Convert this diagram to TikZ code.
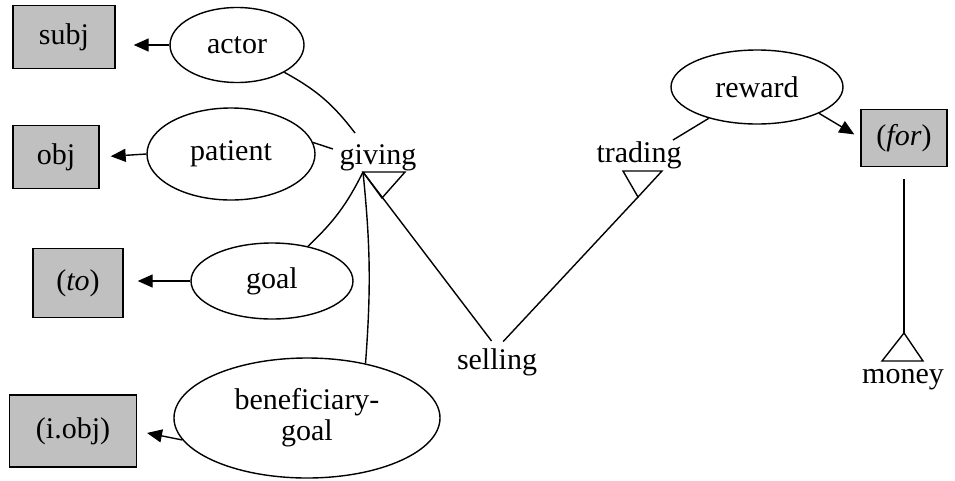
\documentclass[tikz,border=0pt]{standalone}
\usepackage{fontspec}
\setmainfont{Liberation Serif}
\usepackage{tikz}
\usetikzlibrary{shapes.geometric}
\usetikzlibrary{arrows.meta}
\definecolor{boxgray}{RGB}{192,192,192}
\tikzstyle{role} = [draw, ellipse, line width=1.4pt, inner sep=0pt]
\tikzstyle{word} = [draw, fill=boxgray, line width=1.4pt, inner sep=0pt]
\tikzstyle{concept} = [inner sep=0pt]
\tikzstyle{link} = [line width=1.4pt]
\tikzstyle{arrow} = [line width=1.4pt,-{Triangle[length=15pt,width=13pt]}]

\begin{document}
\begin{tikzpicture}[x=1pt,y=-1pt,font=\fontsize{30}{31}\selectfont]
\useasboundingbox (0,0) rectangle (955,480);

\node[word, minimum width=102pt, minimum height=63pt] (subj) at (64,37) {subj};
\node[word, minimum width=86pt, minimum height=63pt] (obj) at (56,157) {obj};
\node[word, minimum width=90pt, minimum height=69pt] (to) at (78,283) {(\textit{to})};
\node[word, minimum width=127pt, minimum height=72pt] (iobj) at (73,431) {(i.obj)};
\node[word, minimum width=86pt, minimum height=57pt] (for) at (904,138) {(\textit{for})};

\node[role, minimum width=134pt, minimum height=75pt] (actor) at (237,45) {actor};
\node[role, minimum width=168pt, minimum height=92pt] (patient) at (231,154) {patient};
\node[role, minimum width=162pt, minimum height=76pt] (goal) at (272,281) {goal};
\node[role, minimum width=266pt, minimum height=120pt, align=center] (bengoal) at (307,418) {beneficiary-\\goal};
\node[role, minimum width=172pt, minimum height=74pt] (reward) at (757,87) {reward};

\node[concept] (giving) at (378,158) {giving};
\node[concept] (selling) at (497,362) {selling};
\node[concept] (trading) at (639,155) {trading};
\node[concept] (money) at (903,380) {money};

\coordinate (givingtop) at (355,133);
\coordinate (givingleft) at (333,149);
\coordinate (givingisa) at (363,172);
\coordinate (tradingtop) at (673,140);
\coordinate (tradingisa) at (638,197);
\coordinate (moneyisa) at (904,333);

% isa triangles
\draw[link] (givingisa) -- ++(42,0) -- ++(-23,26) -- cycle;
\draw[link] (tradingisa) -- ++(-15,-26) -- ++(39,0) -- cycle;
\draw[link] (moneyisa) -- ++(-22,28) -- ++(41,0) -- cycle;

\draw[arrow, shorten >=18pt] (actor.west) -- (actor.west -| subj.east);
\draw[arrow, shorten >=11pt] (patient.west) -- (obj.east);
\draw[arrow, shorten >=14pt] (goal.west) -- (goal.west -| to.east);
\draw[arrow, shorten >=10pt] (bengoal.190) -- (iobj.east);
\draw[arrow, shorten >=7pt] (reward.-23) -- (for.west);

\draw[link] (actor.-30) to[bend left=12] (givingtop);
\draw[link] (patient.8) -- (givingleft);
\draw[link] (goal.44) to[bend right=10] (givingisa);
\draw[link] (bengoal.43) to[bend right=5] (givingisa);
\draw[link, shorten >=9pt] (givingisa) -- (selling.north);
\draw[link, shorten <=9pt] (selling.north) -- (tradingisa);
\draw[link] (reward.213) -- (tradingtop);
\draw[link, shorten <=12pt] (for.south) -- (moneyisa);
\end{tikzpicture}
\end{document}
